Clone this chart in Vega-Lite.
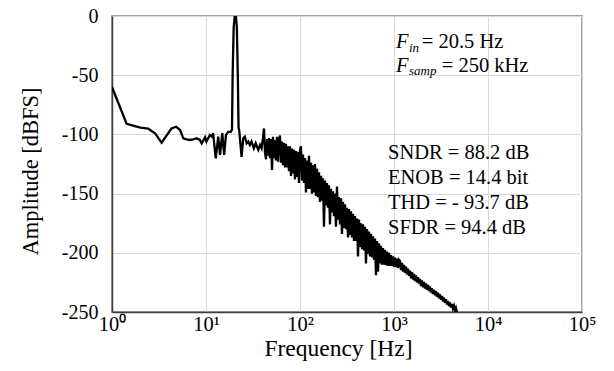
{
"$schema": "https://vega.github.io/schema/vega-lite/v6.json",
"width": 470, "height": 296,
"autosize": "none",
"padding": {"left": 112, "top": 16, "right": 32, "bottom": 59},
"background": "white",
"config": {
 "view": {"stroke": "#808080", "strokeWidth": 1.5},
 "font": "Liberation Serif",
 "style": {"guide-label": {"font": "Liberation Serif", "fill": "#000"}, "guide-title": {"font": "Liberation Serif", "fill": "#000", "fontWeight": "normal"}},
 "axis": {"grid": true, "gridColor": "#d9d9d9", "gridWidth": 1, "ticks": false, "domainColor": "#404040", "domainWidth": 1.5, "labelColor": "#000", "titleColor": "#000", "titleFontWeight": "normal", "labelFont": "Liberation Serif", "titleFont": "Liberation Serif"}
},
"datasets": {
 "spec": [
{"f":1,"a":-60},{"f":1.43,"a":-91},{"f":2,"a":-94.3},{"f":2.43,"a":-95.2},{"f":2.87,"a":-99},{"f":3.1,"a":-103},{"f":3.37,"a":-107},{"f":3.8,"a":-101},{"f":4.3,"a":-95},{"f":4.8,"a":-93.5},{"f":5.3,"a":-96.3},{"f":5.74,"a":-103.3},{"f":6.2,"a":-104.2},{"f":6.75,"a":-104.7},{"f":7.3,"a":-104.2},{"f":7.96,"a":-103.3},{"f":8.6,"a":-104.7},{"f":9.0,"a":-107.5},{"f":9.76,"a":-102.5},{"f":10.1,"a":-106.1},{"f":11.0,"a":-100.5},{"f":11.5,"a":-101.9},{"f":11.9,"a":-99},{"f":12.7,"a":-120.2},{"f":13.5,"a":-101.9},{"f":14.1,"a":-117.4},{"f":14.9,"a":-99},{"f":15.6,"a":-117.4},{"f":16.3,"a":-100.5},{"f":17.3,"a":-97.7},{"f":18.3,"a":-98},{"f":18.9,"a":-96},{"f":19.2,"a":-50},{"f":19.7,"a":-10},{"f":20.2,"a":0},{"f":20.8,"a":0},{"f":21.3,"a":-10},{"f":21.8,"a":-50},{"f":22.2,"a":-94},{"f":22.6,"a":-97},{"f":23.9,"a":-118.9},{"f":24.9,"a":-103.3},{"f":25.9,"a":-101.9},{"f":27.1,"a":-107.5},{"f":28.2,"a":-106},{"f":29.3,"a":-109},{"f":30.5,"a":-106},{"f":32.3,"a":-111.7},{"f":33.8,"a":-107.5},{"f":36,"a":-113},{"f":37.6,"a":-109},{"f":39,"a":-111.7},
{"f":40.4,"a":-103},{"f":41.4,"a":-95},{"f":42.4,"a":-115},{"f":43.5,"a":-121},{"f":44.6,"a":-104},{"f":45.7,"a":-118},{"f":46.8,"a":-103},{"f":48.0,"a":-120},{"f":49.2,"a":-104},{"f":50.4,"a":-130},
{"f":51.6,"a":-102},{"f":52.9,"a":-120},{"f":54.2,"a":-105},{"f":55.5,"a":-122},{"f":56.9,"a":-102},{"f":58.3,"a":-123},{"f":59.7,"a":-105},{"f":61.2,"a":-101},{"f":62.7,"a":-124},{"f":64.3,"a":-106},
{"f":65.9,"a":-126},{"f":67.5,"a":-107},{"f":69.2,"a":-128},{"f":70.9,"a":-108},{"f":72.7,"a":-128},{"f":74.5,"a":-110},{"f":76.3,"a":-131},{"f":78.2,"a":-110},{"f":80.2,"a":-135},{"f":82.2,"a":-112},
{"f":84.2,"a":-133},{"f":86.3,"a":-113},{"f":88.4,"a":-138},{"f":90.6,"a":-114},{"f":92.9,"a":-136},{"f":95.2,"a":-115},{"f":97.5,"a":-141},{"f":100,"a":-113},{"f":102.4,"a":-110},{"f":104.9,"a":-139},
{"f":107.6,"a":-117},{"f":110.3,"a":-141},{"f":113.0,"a":-120},{"f":115.8,"a":-149},{"f":118.7,"a":-122},{"f":121.6,"a":-146},{"f":124.6,"a":-118},{"f":127.7,"a":-146},{"f":130.9,"a":-124},{"f":134.1,"a":-150},
{"f":137.5,"a":-126},{"f":140.9,"a":-149},{"f":144.4,"a":-125},{"f":147.9,"a":-152},{"f":151.6,"a":-129},{"f":155.4,"a":-153},{"f":159.2,"a":-132},{"f":163.2,"a":-157},{"f":167.2,"a":-135},{"f":171.3,"a":-156},
{"f":175.6,"a":-137},{"f":179.9,"a":-178},{"f":184.4,"a":-139},{"f":189.0,"a":-160},{"f":193.6,"a":-141},{"f":198.4,"a":-162},{"f":203.4,"a":-143},{"f":208.4,"a":-176},{"f":213.6,"a":-146},{"f":218.9,"a":-166},
{"f":224.4,"a":-148},{"f":229.9,"a":-169},{"f":235.6,"a":-150},{"f":241.4,"a":-178},{"f":247.4,"a":-144},{"f":253.6,"a":-172},{"f":259.8,"a":-153},{"f":266.3,"a":-176},{"f":272.9,"a":-154},{"f":279.6,"a":-184},
{"f":286.7,"a":-157},{"f":293.8,"a":-179},{"f":301.1,"a":-159},{"f":308.5,"a":-180},{"f":316.2,"a":-162},{"f":324.0,"a":-187},{"f":332.0,"a":-163},{"f":340.2,"a":-185},{"f":348.7,"a":-165},{"f":357.3,"a":-187},
{"f":366.3,"a":-167},{"f":375.3,"a":-190},{"f":384.6,"a":-169},{"f":394.2,"a":-190},{"f":404.0,"a":-171},{"f":414.0,"a":-203},{"f":424.2,"a":-172},{"f":434.7,"a":-195},{"f":445.5,"a":-175},{"f":456.6,"a":-197},
{"f":467.9,"a":-176},{"f":479.5,"a":-198},{"f":491.4,"a":-178},{"f":503.5,"a":-209},{"f":516.0,"a":-180},{"f":528.8,"a":-201},{"f":541.9,"a":-182},{"f":555.3,"a":-203},{"f":569.1,"a":-184},{"f":583.2,"a":-204},
{"f":597.7,"a":-186},{"f":612.5,"a":-206},{"f":627.7,"a":-188},{"f":643.2,"a":-219},{"f":659.2,"a":-190},{"f":675.5,"a":-216},{"f":692.2,"a":-192},{"f":709.4,"a":-209},{"f":727.0,"a":-194},{"f":745.0,"a":-210},
{"f":763.8,"a":-196},{"f":782.7,"a":-210},{"f":802.1,"a":-197.5},{"f":822.0,"a":-210.5},{"f":842.4,"a":-199},{"f":863.3,"a":-211},{"f":884.7,"a":-200},{"f":906.6,"a":-211},{"f":929.1,"a":-202},{"f":952.1,"a":-211},
{"f":975.9,"a":-203},{"f":1000,"a":-212},{"f":1025,"a":-204},{"f":1050,"a":-212},{"f":1076,"a":-205},{"f":1103,"a":-213},{"f":1130,"a":-206},
{"f":1158,"a":-207},{"f":1187,"a":-214.6},{"f":1216,"a":-208.6},{"f":1246,"a":-215.8},{"f":1277,"a":-210.2},{"f":1309,"a":-217},{"f":1341,"a":-211.8},{"f":1374,"a":-218.2},{"f":1408,"a":-213.4},{"f":1443,"a":-219.4},
{"f":1479,"a":-215},{"f":1516,"a":-221.6},{"f":1553,"a":-216.4},{"f":1592,"a":-222.7},{"f":1631,"a":-217.8},{"f":1672,"a":-223.8},{"f":1713,"a":-219.2},{"f":1755,"a":-224.9},{"f":1799,"a":-220.6},{"f":1844,"a":-226},
{"f":1889,"a":-222},{"f":1936,"a":-228.1},{"f":1984,"a":-223.3},{"f":2033,"a":-229.1},{"f":2084,"a":-224.6},{"f":2135,"a":-230.2},{"f":2188,"a":-225.9},{"f":2242,"a":-231.2},{"f":2298,"a":-227.2},{"f":2355,"a":-232.3},
{"f":2413,"a":-228.5},{"f":2473,"a":-233.6},{"f":2534,"a":-229.8},{"f":2597,"a":-234.8},{"f":2661,"a":-231.1},{"f":2727,"a":-236},{"f":2795,"a":-232.4},{"f":2864,"a":-237.2},{"f":2935,"a":-233.7},{"f":3008,"a":-238.4},
{"f":3082,"a":-235},{"f":3159,"a":-239.7},{"f":3237,"a":-236.4},{"f":3317,"a":-241},{"f":3399,"a":-237.8},{"f":3484,"a":-242.3},{"f":3570,"a":-239.2},{"f":3658,"a":-243.7},{"f":3749,"a":-240.6},{"f":3842,"a":-245},
{"f":3937,"a":-242},{"f":4035,"a":-246.2},{"f":4135,"a":-243.2},{"f":4237,"a":-247.2},{"f":4342,"a":-244.8},{"f":4450,"a":-248.5},{"f":4560,"a":-246.5},{"f":4673,"a":-250}
 ],
 "lab": [
  {"f":1971,"a":-27.4,"t":"= 20.5 Hz"},
  {"f":3217,"a":-47,"t":"= 250 kHz"},
  {"f":863,"a":-121.1,"t":"SNDR = 88.2 dB"},
  {"f":863,"a":-142.2,"t":"ENOB = 14.4 bit"},
  {"f":863,"a":-163.3,"t":"THD = - 93.7 dB"},
  {"f":863,"a":-184.4,"t":"SFDR = 94.4 dB"}
 ],
 "labF": [
  {"f":1050,"a":-27.4,"t":"F"},
  {"f":1050,"a":-47,"t":"F"}
 ],
 "labSub": [
  {"f":1444,"a":-30.1,"t":"in"},
  {"f":1444,"a":-49.8,"t":"samp"}
 ]
},
"encoding": {
 "x": {"field": "f", "type": "quantitative", "scale": {"type": "log", "domain": [1, 100000]},
  "axis": {"title": "Frequency [Hz]", "values": [1, 10, 100, 1000, 10000, 100000],
   "labelExpr": "datum.value < 5 ? '10⁰' : datum.value < 50 ? '10¹' : datum.value < 500 ? '10²' : datum.value < 5000 ? '10³' : datum.value < 50000 ? '10⁴' : '10⁵'",
   "labelFont": "Liberation Serif", "titleFont": "Liberation Serif",
   "labelFontSize": 20.5, "labelPadding": 2, "labelFlush": false, "labelOverlap": false,
   "titleFontSize": 23.5, "titleX": 226, "titleY": 43, "titleBaseline": "alphabetic"}},
 "y": {"field": "a", "type": "quantitative", "scale": {"domain": [-250, 0]},
  "axis": {"title": "Amplitude [dBFS]", "values": [-250, -200, -150, -100, -50, 0],
   "labelFont": "Liberation Serif", "titleFont": "Liberation Serif",
   "labelExpr": "'' + datum.value", "labelFontSize": 20, "labelPadding": 14, "labelFlush": false, "labelOverlap": false,
   "titleFontSize": 22.5, "titleX": -75, "titleY": 155, "titleBaseline": "alphabetic"}}
},
"layer": [
 {"data": {"name": "spec"}, "mark": {"type": "line", "color": "#000", "strokeWidth": 2.3, "clip": true}},
 {"data": {"name": "lab"}, "mark": {"type": "text", "align": "left", "baseline": "alphabetic", "fontSize": 20.5, "font": "Liberation Serif", "color": "#000"}, "encoding": {"text": {"field": "t"}}},
 {"data": {"name": "labF"}, "mark": {"type": "text", "align": "left", "baseline": "alphabetic", "fontSize": 20.5, "fontStyle": "italic", "font": "Liberation Serif", "color": "#000"}, "encoding": {"text": {"field": "t"}}},
 {"data": {"name": "labSub"}, "mark": {"type": "text", "align": "left", "baseline": "alphabetic", "fontSize": 13, "fontStyle": "italic", "font": "Liberation Serif", "color": "#000"}, "encoding": {"text": {"field": "t"}}}
]
}
